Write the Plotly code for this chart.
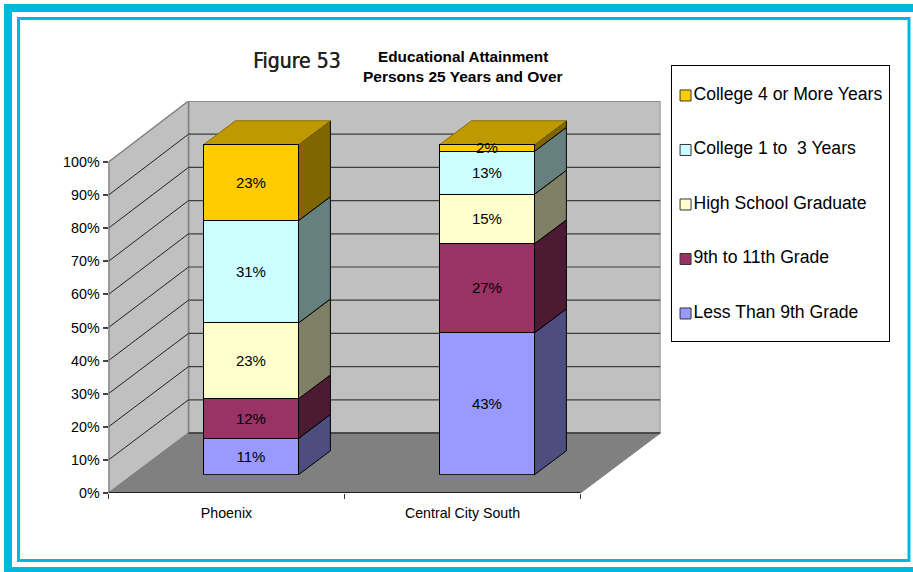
import plotly.graph_objects as go

W, H = 913, 572

categories = ["Phoenix", "Central City South"]
series_names = ["Less Than 9th Grade", "9th to 11th Grade", "High School Graduate",
                "College 1 to  3 Years", "College 4 or More Years"]
less_than_9th = [11, 43]
grade_9_to_11 = [12, 27]
high_school = [23, 15]
college_1_to_3 = [31, 13]
college_4_plus = [23, 2]
series_values = [less_than_9th, grade_9_to_11, high_school, college_1_to_3, college_4_plus]
y_ticks = [0, 10, 20, 30, 40, 50, 60, 70, 80, 90, 100]

front_colors = ["#9999FF", "#993366", "#FFFFCC", "#CCFFFF", "#FFCC00"]
side_colors = ["#4D4D80", "#4D1A33", "#808066", "#668080", "#806600"]
top_color = "#BF9900"
FONT = "Liberation Sans"

# pixel geometry of the plot
L, R, B, T = 108.5, 580.5, 493, 162
DEPTH_X, DEPTH_Y = 80, 60
X_PX = (R - L) / len(categories)
Y_PX = (B - T) / 100
DX = DEPTH_X / X_PX
DY = DEPTH_Y / Y_PX
Z_FRONT, Z_BACK = 0.305, 0.705
BAR_W = 95 / X_PX
BACK_SCALE = 3.32 / Y_PX      # the back wall is drawn very slightly taller
BAR_Y_PX = 3.30               # bars are very slightly shorter than the axis
BAR_LIFT = 18.2               # pixels the bars' base sits above the axis


def project(x, y, z):
    return x + z * DX, y + z * DY


def back(x, v):
    return project(x, v * BACK_SCALE, 1)


def bar_point(x, v, z):
    px, py = project(x, v * BAR_Y_PX / Y_PX, z)
    return px, py + (BAR_LIFT - Z_FRONT * DEPTH_Y) / Y_PX


def hx(p):
    return p / W


def vy(p):
    return 1 - p / H


def polygon(points, color, line, width=1, xa="x", ya="y"):
    xs, ys = [], []
    for p in points:
        if p is None:
            xs.append(None)
            ys.append(None)
        else:
            xs.append(p[0])
            ys.append(p[1])
    return go.Scatter(x=xs, y=ys, mode="lines", fill="toself", fillcolor=color,
                      line=dict(color=line, width=width), showlegend=False,
                      hoverinfo="skip", xaxis=xa, yaxis=ya)


def lines(points, color, width=1):
    xs, ys = zip(*points)
    return go.Scatter(x=xs, y=ys, mode="lines", line=dict(color=color, width=width),
                      showlegend=False, hoverinfo="skip", connectgaps=False)


fig = go.Figure()
n = len(categories)
wall = "#C0C0C0"
edge = "#808080"

# walls and floor
fig.add_trace(polygon([back(0, 0), back(n, 0), back(n, 100), back(0, 100), back(0, 0)], wall, edge, 1.5))
fig.add_trace(polygon([(0, 0), back(0, 0), back(0, 100), (0, 100), (0, 0)], wall, edge, 1.5))
fig.add_trace(polygon([(0, 0), (n, 0), back(n, 0), back(0, 0), (0, 0)], edge, edge, 1))

# gridlines
for v in y_ticks[1:-1]:
    fig.add_trace(lines([(0, v), back(0, v)], "#222222", 1))
    fig.add_trace(lines([back(0, v), back(n, v)], "#3c3c3c", 1.2))
fig.add_trace(lines([back(0, 0), back(n, 0)], "#111111", 1))

# axis lines
fig.add_trace(lines([(0, 0), (0, 100)], "#808080", 2))
fig.add_trace(lines([(0, 0), (n, 0)], "#000000", 1.5))

# side and top faces of the bars
for s, vals in enumerate(series_values):
    pts = []
    for c in range(n):
        xr = c + 0.5 + BAR_W / 2
        lo = sum(series_values[k][c] for k in range(s))
        hi = lo + vals[c]
        pts += [bar_point(xr, lo, Z_FRONT), bar_point(xr, lo, Z_BACK), bar_point(xr, hi, Z_BACK),
                bar_point(xr, hi, Z_FRONT), bar_point(xr, lo, Z_FRONT), None]
    fig.add_trace(polygon(pts, side_colors[s], "#000000", 1))

pts = []
for c in range(n):
    xl, xr = c + 0.5 - BAR_W / 2, c + 0.5 + BAR_W / 2
    hi = sum(v[c] for v in series_values)
    pts += [bar_point(xl, hi, Z_FRONT), bar_point(xl, hi, Z_BACK), bar_point(xr, hi, Z_BACK),
            bar_point(xr, hi, Z_FRONT), bar_point(xl, hi, Z_FRONT), None]
fig.add_trace(polygon(pts, top_color, "#8A7000", 1))

# front faces, on a copy of the axes shifted to the bars' depth
centres = [c + 0.5 for c in range(n)]
for s, vals in enumerate(series_values):
    fig.add_trace(go.Bar(x=centres, y=vals, width=BAR_W, name=series_names[s],
                         marker=dict(color=front_colors[s], line=dict(color="#000000", width=1)),
                         text=[f"{v}%" for v in vals], textposition="inside",
                         insidetextanchor="middle", constraintext="none",
                         textangle=0,
                         textfont=dict(family=FONT, size=15, color="#000000"),
                         showlegend=False, hoverinfo="skip", xaxis="x2", yaxis="y2"))

# legend panel
order = list(range(len(series_names)))
fig.add_trace(go.Scatter(
    x=[0] * len(order), y=order, mode="markers+text",
    text=series_names, textposition="middle right",
    textfont=dict(family=FONT, size=17.6, color="#000000"),
    marker=dict(symbol="square", size=11, color=front_colors, line=dict(color="#333333", width=1)),
    cliponaxis=False, showlegend=False, hoverinfo="skip", xaxis="x3", yaxis="y3"))

shift_x = Z_FRONT * DEPTH_X
full_x = (n + DX)
full_y = (100 * BACK_SCALE + DY)

CY = "#00B8DE"
frame = [
    dict(type="rect", xref="paper", yref="paper", x0=hx(8), x1=hx(925), y0=vy(8), y1=vy(571),
         line=dict(color=CY, width=8), layer="below"),
    dict(type="rect", xref="paper", yref="paper", x0=hx(18.5), x1=hx(909), y0=vy(18.5), y1=vy(560.5),
         line=dict(color=CY, width=3), layer="below"),
]

fig.update_layout(
    width=W, height=H, margin=dict(l=0, r=0, t=0, b=0), autosize=False,
    paper_bgcolor="#FFFFFF", plot_bgcolor="rgba(0,0,0,0)",
    barmode="stack", bargap=0, showlegend=False, shapes=frame,
    font=dict(family=FONT, color="#000000"),
    xaxis=dict(domain=[hx(L), hx(L + full_x * X_PX)], range=[0, full_x],
               tickmode="array", tickvals=centres, ticktext=categories, ticklen=0,
               tickfont=dict(family=FONT, size=14.2), showgrid=False, zeroline=False, showline=False,
               ticklabelstandoff=10, automargin=False,
               minor=dict(tickmode="array", tickvals=list(range(n + 1)), ticks="outside",
                          ticklen=5, tickcolor="#333333", showgrid=False)),
    yaxis=dict(domain=[vy(B), vy(B - full_y * Y_PX)], range=[0, full_y], automargin=False,
               tickmode="array", tickvals=y_ticks, ticktext=[f"{v}%" for v in y_ticks],
               ticks="outside", ticklen=5, tickcolor="#444444", tickwidth=1.5,
               tickfont=dict(family=FONT, size=14.3), showgrid=False, zeroline=False, showline=False),
    xaxis2=dict(domain=[hx(L + shift_x), hx(R + shift_x)], range=[0, n], visible=False, anchor="y2", automargin=False),
    yaxis2=dict(domain=[vy(B - BAR_LIFT), vy(B - BAR_LIFT - 110 * BAR_Y_PX)], range=[0, 110], visible=False, anchor="x2", automargin=False),
    xaxis3=dict(domain=[hx(672), hx(889)], range=[-0.125, 1.875], anchor="y3", showline=True, mirror=True, automargin=False,
                linecolor="#000000", linewidth=1, ticks="", showticklabels=False, showgrid=False, zeroline=False),
    yaxis3=dict(domain=[vy(341), vy(66)], range=[-0.505, 4.541], anchor="x3", showline=True, mirror=True, automargin=False,
                linecolor="#000000", linewidth=1, ticks="", showticklabels=False, showgrid=False, zeroline=False),
    annotations=[
        dict(text="Figure 53", xref="paper", yref="paper", x=hx(297), y=vy(61), showarrow=False,
             font=dict(family="DejaVu Sans Condensed, DejaVu Sans", size=21, color="#222222", shadow="0.5px 0 0 #222222"),
             xanchor="center", yanchor="middle"),
        dict(text="<b>Educational Attainment</b>", xref="paper", yref="paper", x=hx(463), y=vy(56), showarrow=False,
             font=dict(family=FONT, size=15.3, color="#000000"), xanchor="center", yanchor="middle"),
        dict(text="<b>Persons 25 Years and Over</b>", xref="paper", yref="paper", x=hx(463), y=vy(77), showarrow=False,
             font=dict(family=FONT, size=15.5, color="#000000"), xanchor="center", yanchor="middle"),
    ],
)

fig.write_html("out.html", config=dict(displayModeBar=False),
               post_script="document.body.style.margin='0';document.body.style.overflow='hidden';")
